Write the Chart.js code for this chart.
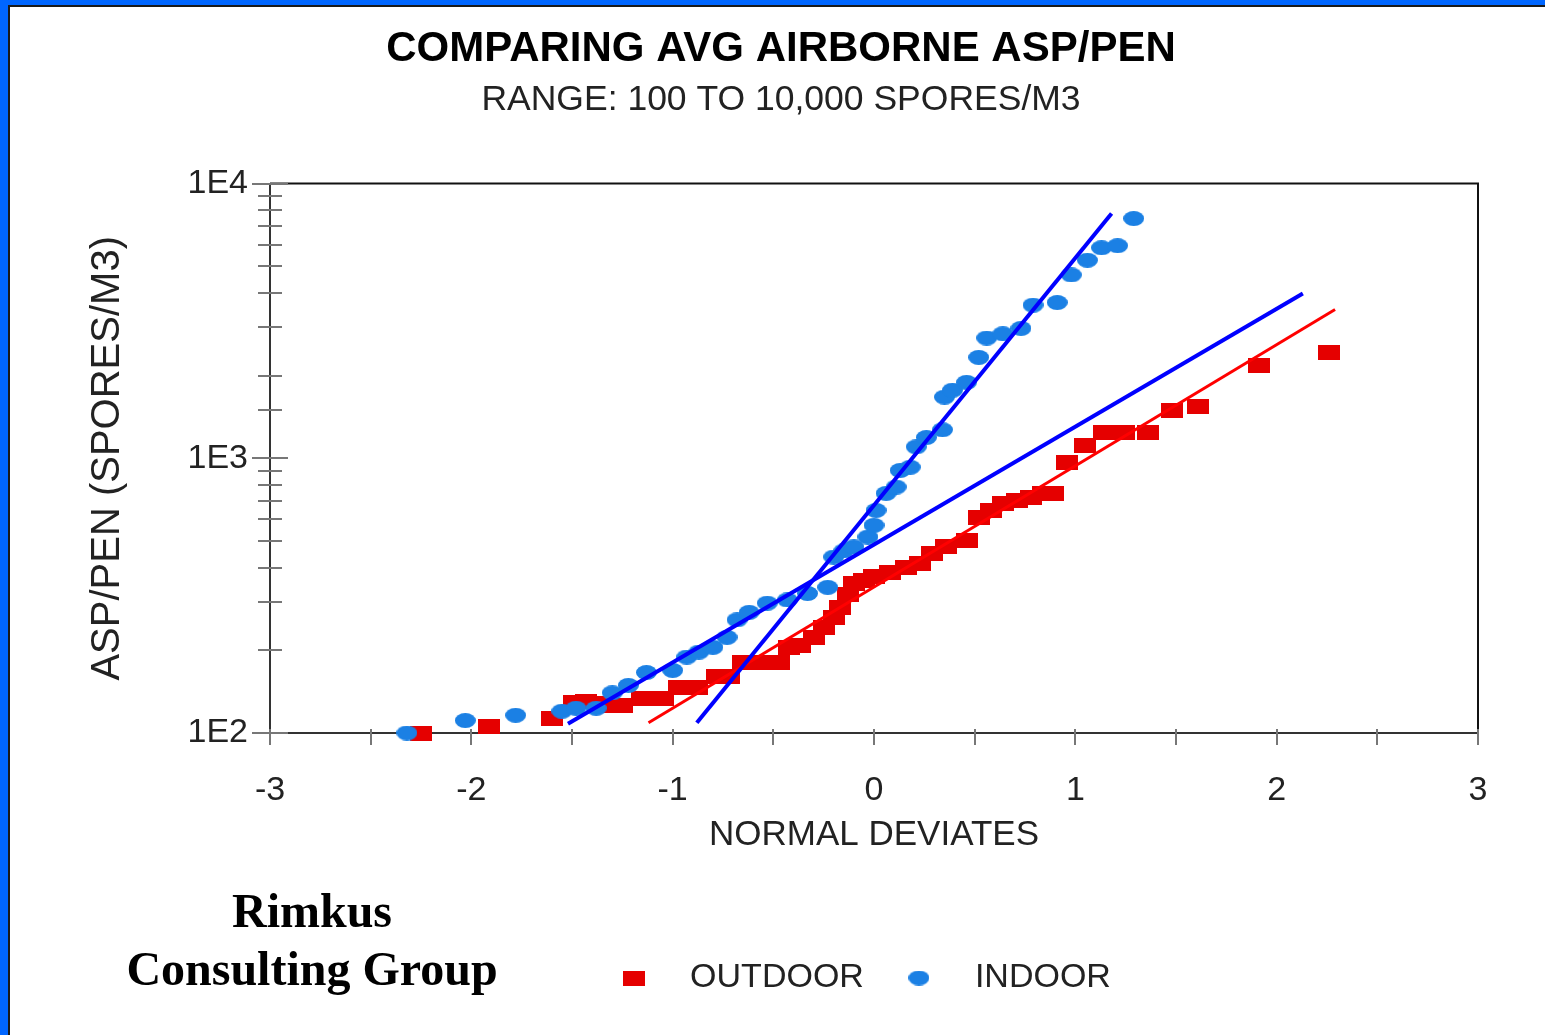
<!DOCTYPE html>
<html>
<head>
<meta charset="utf-8">
<title>Comparing avg airborne ASP/PEN</title>
<script src="https://cdn.jsdelivr.net/npm/chart.js@4.4.1/dist/chart.umd.min.js"></script>
<style>
  html, body { margin: 0; padding: 0; background: #fff; overflow: hidden; }
  #frame { position: absolute; left: 0; top: 0; width: 1537px; height: 1030px; border-left: 8px solid #0066ff; border-top: 5px solid #0066ff; }
  #inner { position: absolute; left: 0; top: 0; right: 0; bottom: 0; border-left: 2px solid #1a1a1a; border-top: 2px solid #1a1a1a; }
  #chart { position: absolute; left: 10px; top: 7px; }
  #firm { position: absolute; left: 112px; top: 882px; width: 400px; text-align: center; color: #000;
          font: bold 48px/58px "Liberation Serif", "Times New Roman", serif; }
</style>
</head>
<body>
<div id="frame"><div id="inner"></div></div>
<canvas id="chart" width="1535" height="1028"></canvas>
<div id="firm">Rimkus<br>Consulting Group</div>
<script>
// normal deviate (x) vs ASP/PEN spores/m3 (y)
var outdoorX = [-2.25, -1.91, -1.60, -1.49, -1.43, -1.36, -1.30, -1.25, -1.15, -1.05, -0.97, -0.88, -0.78, -0.72,
                -0.65, -0.55, -0.47, -0.42, -0.37, -0.30, -0.25, -0.20, -0.17, -0.13, -0.10, -0.05, 0.00, 0.08,
                0.16, 0.23, 0.29, 0.36, 0.46, 0.52, 0.58, 0.64, 0.71, 0.78, 0.84, 0.89, 0.96, 1.05, 1.14, 1.24,
                1.36, 1.48, 1.61, 1.91, 2.26];
var outdoorY = [100, 106, 113, 129, 130, 128, 126, 126, 134, 134, 147, 147, 160, 160,
                180, 180, 180, 205, 209, 223, 243, 264, 287, 318, 351, 360, 372, 384,
                400, 415, 451, 476, 503, 611, 647, 687, 705, 721, 745, 745, 965, 1112, 1240, 1240,
                1240, 1496, 1548, 2185, 2430];

var indoorX = [-2.32, -2.03, -1.78, -1.55, -1.48, -1.38, -1.30, -1.22, -1.13, -1.00, -0.93, -0.87, -0.80, -0.73,
               -0.68, -0.62, -0.53, -0.43, -0.33, -0.23, -0.20, -0.15, -0.10, -0.03, 0.00, 0.01, 0.06, 0.11,
               0.13, 0.18, 0.21, 0.26, 0.34, 0.35, 0.39, 0.46, 0.52, 0.56, 0.64, 0.73, 0.79, 0.91, 0.98, 1.06,
               1.13, 1.21, 1.29];
var indoorY = [100, 111, 116, 120, 123, 123, 140, 149, 166, 169, 189, 197, 205, 223,
               258, 275, 297, 305, 322, 339, 437, 460, 476, 517, 570, 646, 745, 786,
               903, 928, 1100, 1190, 1270, 1670, 1770, 1890, 2330, 2740, 2840, 2970, 3610, 3690, 4650, 5260,
               5840, 5940, 7460];

// fitted lines, end points
var outdoorFitX = [-1.12, 2.29];
var outdoorFitY = [109, 3480];
var indoorFitAX = [-1.52, 2.13];
var indoorFitAY = [108, 3980];
var indoorFitBX = [-0.88, 1.18];
var indoorFitBY = [109, 7780];

var xTickValues = [-3, -2, -1, 0, 1, 2, 3];
var xTickLabels = ['-3', '-2', '-1', '0', '1', '2', '3'];
var yTickValues = [100, 1000, 10000];
var yTickLabels = ['1E2', '1E3', '1E4'];

function pairs(xs, ys) {
    return xs.map(function(x, i){ return {x: x, y: ys[i]}; });
}

function markerRect(w, h, color) {
    var c = document.createElement('canvas');
    c.width = w; c.height = h;
    var g = c.getContext('2d');
    g.fillStyle = color;
    g.fillRect(0, 0, w, h);
    return c;
}

function markerOval(w, h, color) {
    var c = document.createElement('canvas');
    c.width = w; c.height = h;
    var g = c.getContext('2d');
    g.fillStyle = color;
    g.beginPath();
    g.ellipse(w / 2, h / 2, w / 2, h / 2, 0, 0, 2 * Math.PI);
    g.fill();
    return c;
}

// frame of the plot + the tick marks crossing the axes
var axisFrame = {
    id: 'axisFrame',
    afterLayout: function(chart) {
        // legend sits a bit left of the plot centre in the original
        chart.legend.left -= 42;
    },
    beforeDatasetsDraw: function(chart) {
        var ctx = chart.ctx, a = chart.chartArea;
        var xs = chart.scales.x, ys = chart.scales.y;
        ctx.save();
        ctx.lineWidth = 2;
        ctx.strokeStyle = '#111';
        ctx.beginPath();
        ctx.moveTo(a.left, a.top); ctx.lineTo(a.right, a.top); ctx.lineTo(a.right, a.bottom);
        ctx.stroke();
        ctx.strokeStyle = '#333';
        ctx.beginPath();
        ctx.moveTo(a.left, a.top); ctx.lineTo(a.left, a.bottom); ctx.lineTo(a.right, a.bottom);
        ctx.stroke();
        ctx.strokeStyle = '#777';
        xs.ticks.forEach(function(t){
            var px = Math.round(xs.getPixelForValue(t.value));
            ctx.beginPath();
            ctx.moveTo(px, a.bottom - 4); ctx.lineTo(px, a.bottom + 12);
            ctx.stroke();
        });
        ys.ticks.forEach(function(t){
            var py = Math.round(ys.getPixelForValue(t.value));
            var l = yTickValues.indexOf(t.value) >= 0 ? 18 : 12;
            ctx.beginPath();
            ctx.moveTo(a.left - l, py); ctx.lineTo(a.left + l, py);
            ctx.stroke();
        });
        ctx.restore();
    }
};

Chart.defaults.font.family = '"Liberation Sans", Arial, sans-serif';
Chart.defaults.color = '#222';

var red = '#e50000', blue = '#1b80e4';

new Chart(document.getElementById('chart'), {
    type: 'scatter',
    data: {
        datasets: [{
            label: 'OUTDOOR',
            data: pairs(outdoorX, outdoorY),
            pointStyle: markerRect(22, 15, red),
            backgroundColor: red,
            borderColor: red,
            clip: false,
            order: 3
        }, {
            label: 'INDOOR',
            data: pairs(indoorX, indoorY),
            pointStyle: markerOval(21, 15, blue),
            backgroundColor: blue,
            borderColor: blue,
            clip: false,
            order: 2
        }, {
            label: 'outdoor fit',
            data: pairs(outdoorFitX, outdoorFitY),
            showLine: true,
            pointRadius: 0,
            borderColor: '#ff0000',
            borderWidth: 3,
            order: 1
        }, {
            label: 'indoor fit a',
            data: pairs(indoorFitAX, indoorFitAY),
            showLine: true,
            pointRadius: 0,
            borderColor: '#0000ff',
            borderWidth: 4,
            order: 0
        }, {
            label: 'indoor fit b',
            data: pairs(indoorFitBX, indoorFitBY),
            showLine: true,
            pointRadius: 0,
            borderColor: '#0000ff',
            borderWidth: 4,
            order: 0
        }]
    },
    options: {
        responsive: false,
        animation: false,
        layout: { padding: { left: 74, right: 67, top: 10, bottom: 30 } },
        scales: {
            x: {
                type: 'linear',
                min: -3,
                max: 3,
                grid: { display: false, drawTicks: false },
                border: { display: false },
                ticks: {
                    stepSize: 0.5,
                    autoSkip: false,
                    maxRotation: 0,
                    padding: 37,
                    font: { size: 34 },
                    callback: function(v){
                        var i = xTickValues.indexOf(v);
                        return i >= 0 ? xTickLabels[i] : '';
                    }
                },
                title: { display: true, text: 'NORMAL DEVIATES', font: { size: 35 }, padding: { top: 0, bottom: 89 } },
                afterFit: function(s){ s.height = 212; }
            },
            y: {
                type: 'logarithmic',
                min: 100,
                max: 10000,
                grid: { display: false, drawTicks: false },
                border: { display: false },
                ticks: {
                    autoSkip: false,
                    padding: 22,
                    font: { size: 34 },
                    callback: function(v){
                        var i = yTickValues.indexOf(v);
                        return i >= 0 ? yTickLabels[i] : '';
                    }
                },
                title: { display: true, text: 'ASP/PEN (SPORES/M3)', font: { size: 40 }, padding: 0 },
                afterFit: function(s){ s.width = 186; }
            }
        },
        plugins: {
            title: {
                display: true,
                text: 'COMPARING AVG AIRBORNE ASP/PEN',
                color: '#000',
                font: { size: 42, weight: 'bold' },
                padding: { top: 7, bottom: 0 }
            },
            subtitle: {
                display: true,
                text: 'RANGE: 100 TO 10,000 SPORES/M3',
                color: '#222',
                font: { size: 35.5 },
                padding: { top: 5, bottom: 61.6 }
            },
            legend: {
                position: 'bottom',
                fullSize: false,
                labels: {
                    usePointStyle: true,
                    pointStyleWidth: 78,
                    padding: 16,
                    font: { size: 34 },
                    filter: function(item){ return item.datasetIndex < 2; },
                    sort: function(a, b){ return a.datasetIndex - b.datasetIndex; }
                }
            },
            tooltip: { enabled: false }
        }
    },
    plugins: [axisFrame]
});
</script>
</body>
</html>
